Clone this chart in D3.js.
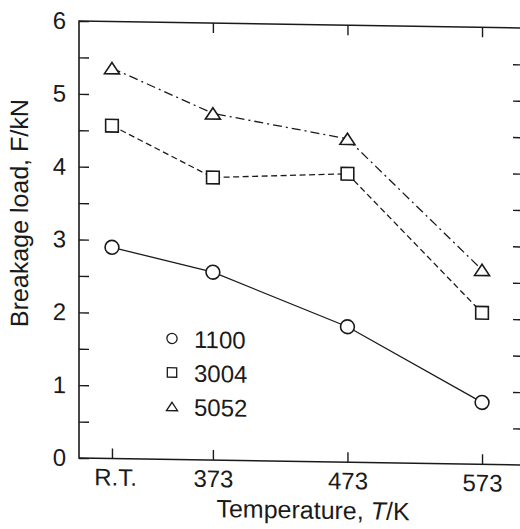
<!DOCTYPE html>
<html>
<head>
<meta charset="utf-8">
<script src="https://cdn.jsdelivr.net/npm/d3@7"></script>
<style>
  body { margin: 0; background: #fff; }
  text { font-family: "Liberation Sans", Arial, sans-serif; fill: #1a1a1a; }
</style>
</head>
<body>
<div id="chart"></div>
<script>
// temperatures (R.T. taken as 298 K so the spacing matches the figure)
const temps = [298, 373, 473, 573];
const tempLabels = ["R.T.", "373", "473", "573"];
const alloys = ["1100", "3004", "5052"];
const load1100 = [2.90, 2.58, 1.86, 0.85];
const load3004 = [4.57, 3.88, 3.96, 2.08];
const load5052 = [5.36, 4.76, 4.44, 2.67];
const yLabels = [0, 1, 2, 3, 4, 5, 6];

const width = 520, height = 529;
const ink = "#1a1a1a";

// right edge of the frame sits just outside the picture, like the scan
const x = d3.scaleLinear().domain([273.5, 602.7]).range([79, 522]);
const y = d3.scaleLinear().domain([0, 6]).range([458, 21]);

// flat triangle like the scanned one
const flatTriangle = {
  draw(ctx, size) {
    const w = Math.sqrt(size) * 1.15, h = w * 0.75;
    ctx.moveTo(0, -h / 2);
    ctx.lineTo(w / 2, h / 2);
    ctx.lineTo(-w / 2, h / 2);
    ctx.closePath();
  }
};

const series = [
  {name: alloys[0], values: load1100, shape: d3.symbolCircle, size: 150, dash: null},
  {name: alloys[1], values: load3004, shape: d3.symbolSquare, size: 160, dash: "6,3.5"},
  {name: alloys[2], values: load5052, shape: flatTriangle, size: 170, dash: "9,4,2,4"}
];

const svg = d3.select("#chart").append("svg")
    .attr("width", width)
    .attr("height", height);

// the scan is slightly tilted, so skew everything a touch
const g = svg.append("g")
    .attr("transform", "translate(79,458) skewY(0.9) translate(-79,-458)");

// frame
g.append("rect")
    .attr("x", x.range()[0])
    .attr("y", y.range()[1])
    .attr("width", x.range()[1] - x.range()[0])
    .attr("height", y.range()[0] - y.range()[1])
    .attr("fill", "none")
    .attr("stroke", ink)
    .attr("stroke-width", 1.6);

const halfSteps = d3.range(0, 6.01, 0.5);

const yLeft = g.append("g")
    .attr("transform", `translate(${x.range()[0]},0)`)
    .call(d3.axisLeft(y)
      .tickValues(halfSteps)
      .tickSize(-10)
      .tickPadding(13)
      .tickFormat(d => yLabels.includes(d) ? d : ""));

const yRight = g.append("g")
    .attr("transform", `translate(${x.range()[1]},0)`)
    .call(d3.axisRight(y)
      .tickValues(halfSteps.filter(d => d > 0 && d < 6))
      .tickSize(-9)
      .tickFormat(""));

const xBottom = g.append("g")
    .attr("transform", `translate(0,${y.range()[0]})`)
    .call(d3.axisBottom(x)
      .tickValues(temps)
      .tickSize(-10)
      .tickPadding(10)
      .tickFormat((d, i) => tempLabels[i]));

const xTop = g.append("g")
    .attr("transform", `translate(0,${y.range()[1]})`)
    .call(d3.axisTop(x)
      .tickValues(temps.slice(1))
      .tickSize(-10)
      .tickFormat(""));

[yLeft, yRight, xBottom, xTop].forEach(a => {
  a.select(".domain").remove();
  a.selectAll("line").attr("stroke", ink).attr("stroke-width", 1.4);
  a.selectAll("text").attr("font-size", 24).attr("fill", ink)
    .style("font-family", "'Liberation Sans', Arial, sans-serif");
});
xBottom.selectAll("text").attr("dx", (d, i) => i === 0 ? 3 : 0);

// lines
const line = d3.line()
    .x((d, i) => x(temps[i]))
    .y(d => y(d));

g.append("g")
  .selectAll("path")
  .data(series)
  .join("path")
    .attr("d", d => line(d.values))
    .attr("fill", "none")
    .attr("stroke", ink)
    .attr("stroke-width", 1.3)
    .attr("stroke-dasharray", d => d.dash);

// markers
g.append("g")
  .selectAll("g")
  .data(series)
  .join("g")
  .selectAll("path")
  .data(d => d.values.map((v, i) => ({v, t: temps[i], s: d})))
  .join("path")
    .attr("transform", d => `translate(${x(d.t)},${y(d.v)})`)
    .attr("d", d => d3.symbol(d.s.shape, d.s.size)())
    .attr("fill", "#fff")
    .attr("stroke", ink)
    .attr("stroke-width", 1.6);

// legend
const legend = g.append("g").attr("transform", "translate(172,337)");
const row = legend.selectAll("g")
  .data(series)
  .join("g")
    .attr("transform", (d, i) => `translate(0,${i * 34})`);
row.append("path")
    .attr("d", d => d3.symbol(d.shape, d.size * 0.55)())
    .attr("fill", "none")
    .attr("stroke", ink)
    .attr("stroke-width", 1.3);
row.append("text")
    .attr("x", 22)
    .attr("y", 9)
    .attr("font-size", 24)
    .text(d => d.name);

// axis titles
const xt = g.append("text")
    .attr("x", 313)
    .attr("y", 515)
    .attr("text-anchor", "middle")
    .attr("font-size", 25);
xt.append("tspan").text("Temperature, ");
xt.append("tspan").attr("font-style", "italic").text("T");
xt.append("tspan").text("/K");

g.append("text")
    .attr("transform", "translate(28,214) rotate(-90)")
    .attr("text-anchor", "middle")
    .attr("font-size", 25)
    .text("Breakage load, F/kN");
</script>
</body>
</html>
